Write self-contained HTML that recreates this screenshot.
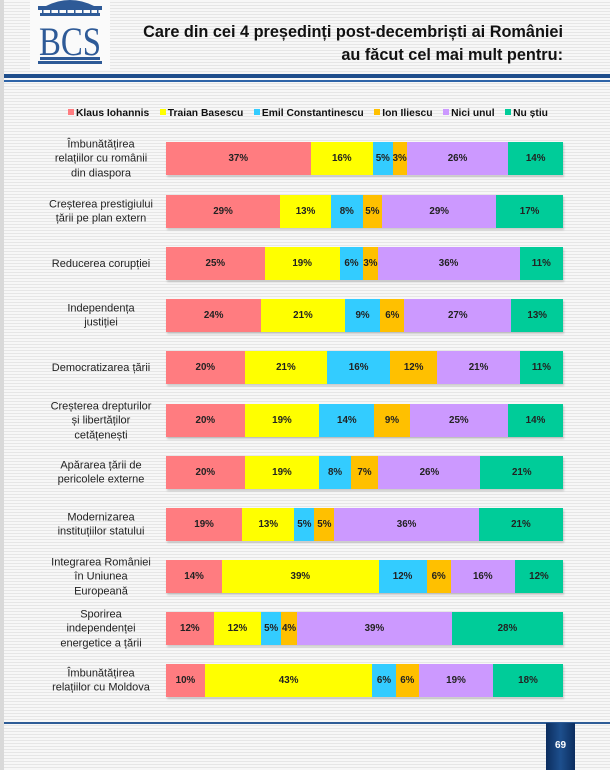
<!DOCTYPE html>
<html><head><meta charset="utf-8"><style>
*{margin:0;padding:0;box-sizing:border-box}
body{width:610px;height:770px;position:relative;overflow:hidden;font-family:"Liberation Sans",sans-serif;
background:repeating-linear-gradient(to bottom,#f7f7f7 0px,#f7f7f7 2px,#e6e6e6 2px,#e6e6e6 3px);}
.lb{position:absolute;left:0;top:0;width:4px;height:770px;background:#d9d9d9}
.title{position:absolute;right:47px;top:21px;text-align:right;font-weight:bold;font-size:16.3px;line-height:23px;color:#111}
.r1{position:absolute;left:4px;right:0;top:74px;height:4px;background:#1f4e8c}
.r2{position:absolute;left:4px;right:0;top:80px;height:2px;background:#2e64a8}
.legend{position:absolute;top:108px;left:68px;width:480px;display:flex;justify-content:space-between;font-size:10.3px;font-weight:bold;color:#111}
.legend i{display:inline-block;width:6px;height:6px;margin-right:2px;vertical-align:1px}
.row{position:absolute;left:0;width:610px;height:33px}
.lab{position:absolute;right:453px;width:112px;top:50%;transform:translateY(-50%);text-align:center;font-size:11px;line-height:14.5px;color:#222}
.bar{position:absolute;left:166px;width:397px;height:33px;display:flex;box-shadow:1px 2px 2px rgba(0,0,0,.18)}
.bar div{height:33px;display:flex;align-items:center;justify-content:center;font-size:9.8px;font-weight:bold;color:#222;overflow:visible;white-space:nowrap}
.a{background:#ff7c80}.b{background:#ffff00}.c{background:#33ccff}.d{background:#ffc000}.e{background:#cc99ff}.f{background:#00cc99}
.bl{position:absolute;left:4px;right:0;top:722px;height:2px;background:#2e5c96}
.pg{position:absolute;left:546px;top:723px;width:29px;height:47px;background:linear-gradient(to right,#0c2d5e,#1d4f8d 50%,#0c2d5e);color:#fff;font-size:10px;font-weight:bold;text-align:center;padding-top:17px}
</style></head><body>
<div class="lb"></div>
<svg style="position:absolute;left:30px;top:0" width="80" height="70" viewBox="0 0 80 70">
<rect x="0" y="0" width="80" height="70" fill="#fafafa"/>
<path d="M16 6 Q40 -6 64 6 Z" fill="#2e5a97"/>
<rect x="8" y="6" width="64" height="4" fill="#2e5a97"/>
<rect x="10" y="13" width="60" height="3" fill="#2e5a97"/>
<g fill="#2e5a97"><rect x="12" y="10" width="1.5" height="3"/><rect x="20" y="10" width="1.5" height="3"/><rect x="28" y="10" width="1.5" height="3"/><rect x="36" y="10" width="1.5" height="3"/><rect x="44" y="10" width="1.5" height="3"/><rect x="52" y="10" width="1.5" height="3"/><rect x="60" y="10" width="1.5" height="3"/><rect x="67" y="10" width="1.5" height="3"/></g>
<text x="40" y="55" text-anchor="middle" font-family="Liberation Serif,serif" font-size="40" fill="#2e5a97" textLength="62" lengthAdjust="spacingAndGlyphs">BCS</text>
<rect x="10" y="57" width="60" height="3" fill="#2e5a97"/>
<rect x="8" y="61" width="64" height="3" fill="#2e5a97"/>
</svg>
<div class="title">Care din cei 4 președinți post-decembriști ai României<br>au făcut cel mai mult pentru:</div>
<div class="r1"></div><div class="r2"></div>
<div class="legend"><span><i class="a"></i>Klaus Iohannis</span><span><i class="b"></i>Traian Basescu</span><span><i class="c"></i>Emil Constantinescu</span><span><i class="d"></i>Ion Iliescu</span><span><i class="e"></i>Nici unul</span><span><i class="f"></i>Nu știu</span></div>

<div class="row" style="top:142px"><div class="lab">Îmbunătățirea<br>relațiilor cu românii<br>din diaspora</div><div class="bar"><div class="a" style="flex:37">37%</div><div class="b" style="flex:16">16%</div><div class="c" style="flex:5">5%</div><div class="d" style="flex:3">3%</div><div class="e" style="flex:26">26%</div><div class="f" style="flex:14">14%</div></div></div>
<div class="row" style="top:195px"><div class="lab">Creșterea prestigiului<br>țării pe plan extern</div><div class="bar"><div class="a" style="flex:29">29%</div><div class="b" style="flex:13">13%</div><div class="c" style="flex:8">8%</div><div class="d" style="flex:5">5%</div><div class="e" style="flex:29">29%</div><div class="f" style="flex:17">17%</div></div></div>
<div class="row" style="top:247px"><div class="lab">Reducerea corupției</div><div class="bar"><div class="a" style="flex:25">25%</div><div class="b" style="flex:19">19%</div><div class="c" style="flex:6">6%</div><div class="d" style="flex:3">3%</div><div class="e" style="flex:36">36%</div><div class="f" style="flex:11">11%</div></div></div>
<div class="row" style="top:299px"><div class="lab">Independența<br>justiției</div><div class="bar"><div class="a" style="flex:24">24%</div><div class="b" style="flex:21">21%</div><div class="c" style="flex:9">9%</div><div class="d" style="flex:6">6%</div><div class="e" style="flex:27">27%</div><div class="f" style="flex:13">13%</div></div></div>
<div class="row" style="top:351px"><div class="lab">Democratizarea țării</div><div class="bar"><div class="a" style="flex:20">20%</div><div class="b" style="flex:21">21%</div><div class="c" style="flex:16">16%</div><div class="d" style="flex:12">12%</div><div class="e" style="flex:21">21%</div><div class="f" style="flex:11">11%</div></div></div>
<div class="row" style="top:404px"><div class="lab">Creșterea drepturilor<br>și libertăților<br>cetățenești</div><div class="bar"><div class="a" style="flex:20">20%</div><div class="b" style="flex:19">19%</div><div class="c" style="flex:14">14%</div><div class="d" style="flex:9">9%</div><div class="e" style="flex:25">25%</div><div class="f" style="flex:14">14%</div></div></div>
<div class="row" style="top:456px"><div class="lab">Apărarea țării de<br>pericolele externe</div><div class="bar"><div class="a" style="flex:20">20%</div><div class="b" style="flex:19">19%</div><div class="c" style="flex:8">8%</div><div class="d" style="flex:7">7%</div><div class="e" style="flex:26">26%</div><div class="f" style="flex:21">21%</div></div></div>
<div class="row" style="top:508px"><div class="lab">Modernizarea<br>instituțiilor statului</div><div class="bar"><div class="a" style="flex:19">19%</div><div class="b" style="flex:13">13%</div><div class="c" style="flex:5">5%</div><div class="d" style="flex:5">5%</div><div class="e" style="flex:36">36%</div><div class="f" style="flex:21">21%</div></div></div>
<div class="row" style="top:560px"><div class="lab">Integrarea României<br>în Uniunea<br>Europeană</div><div class="bar"><div class="a" style="flex:14">14%</div><div class="b" style="flex:39">39%</div><div class="c" style="flex:12">12%</div><div class="d" style="flex:6">6%</div><div class="e" style="flex:16">16%</div><div class="f" style="flex:12">12%</div></div></div>
<div class="row" style="top:612px"><div class="lab">Sporirea<br>independenței<br>energetice a țării</div><div class="bar"><div class="a" style="flex:12">12%</div><div class="b" style="flex:12">12%</div><div class="c" style="flex:5">5%</div><div class="d" style="flex:4">4%</div><div class="e" style="flex:39">39%</div><div class="f" style="flex:28">28%</div></div></div>
<div class="row" style="top:664px"><div class="lab">Îmbunătățirea<br>relațiilor cu Moldova</div><div class="bar"><div class="a" style="flex:10">10%</div><div class="b" style="flex:43">43%</div><div class="c" style="flex:6">6%</div><div class="d" style="flex:6">6%</div><div class="e" style="flex:19">19%</div><div class="f" style="flex:18">18%</div></div></div>

<div class="bl"></div>
<div class="pg">69</div>
</body></html>
